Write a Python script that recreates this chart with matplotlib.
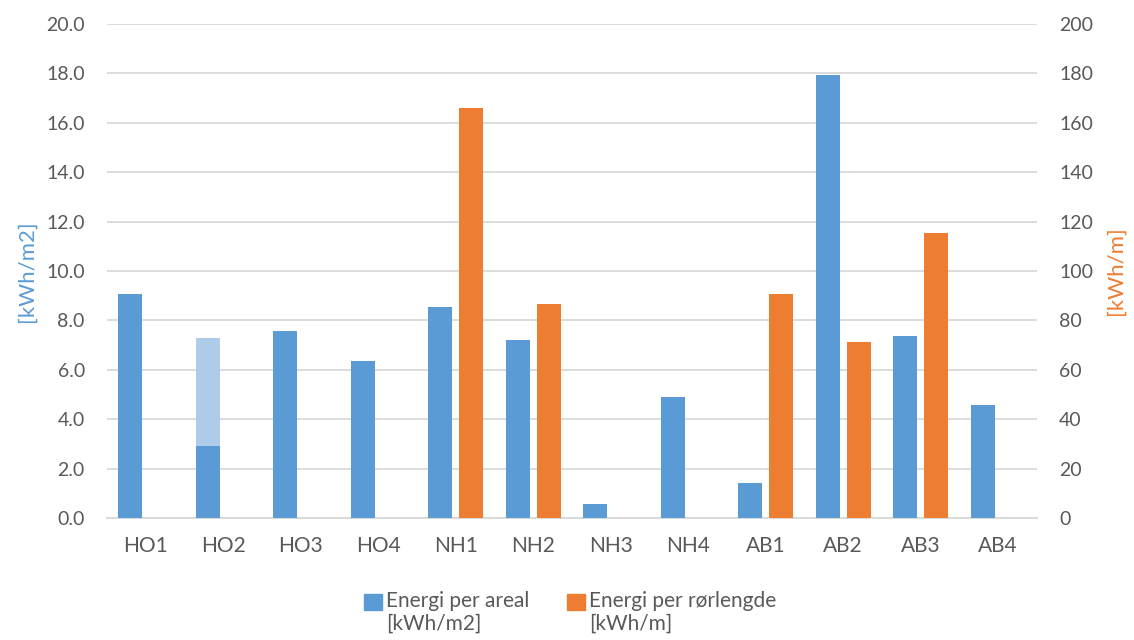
import numpy as np
import matplotlib
matplotlib.use("Agg")
import matplotlib.pyplot as plt
from matplotlib.patches import Patch

plt.rcParams["font.family"] = ["Lato", "DejaVu Sans"]

categories = ["HO1", "HO2", "HO3", "HO4", "NH1", "NH2", "NH3", "NH4",
              "AB1", "AB2", "AB3", "AB4"]
# energi per areal [kWh/m2] (venstre akse)
areal = [9.05, 2.9, 7.56, 6.35, 8.55, 7.21, 0.56, 4.89, 1.40, 17.95, 7.38, 4.58]
# HO2: tillegg oppå (lys blå)
areal_extra = [0, 4.37, 0, 0, 0, 0, 0, 0, 0, 0, 0, 0]
# energi per rørlengde [kWh/m] (høyre akse), None = mangler
ror = [None, None, None, None, 166, 86.6, None, None, 90.6, 71.2, 115.4, None]

BLUE, ORANGE, LIGHT = "#5B9BD5", "#ED7D31", "#AECBEA"
GRID, TXT = "#D9D9D9", "#595959"

x = np.arange(len(categories))
w, off = 0.31, 0.2

fig = plt.figure(figsize=(11.34, 6.40), dpi=100)
ax = fig.add_axes([0.0944, 0.1906, 0.82, 0.772])
ax2 = ax.twinx()

ax.bar(x - off, areal, width=w, color=BLUE, linewidth=0, zorder=3)
extra = np.array(areal_extra)
m = extra > 0
ax.bar(x[m] - off, extra[m], bottom=np.array(areal)[m], width=w, color=LIGHT,
       linewidth=0, zorder=3)

r = np.array([np.nan if v is None else v for v in ror], dtype=float)
ok = ~np.isnan(r)
ax2.bar(x[ok] + off, r[ok], width=w, color=ORANGE, linewidth=0, zorder=3)

ax.set_xlim(-0.5, len(categories) - 0.5)
ax.set_ylim(0, 20)
ax2.set_ylim(0, 200)
ax.set_yticks(np.arange(0, 21, 2))
ax.set_yticklabels([f"{v:.1f}" for v in np.arange(0, 21, 2)])
ax2.set_yticks(np.arange(0, 201, 20))
ax.set_xticks(x)
ax.set_xticklabels(categories)

ax.grid(axis="y", color=GRID, linewidth=1.3, zorder=0)
ax.set_axisbelow(True)
for a in (ax, ax2):
    for s in a.spines.values():
        s.set_visible(False)
ax.spines["bottom"].set_visible(True)
ax.spines["bottom"].set_color(GRID)
ax.spines["bottom"].set_linewidth(1.3)

ax.tick_params(axis="y", length=0, pad=16, labelsize=14, labelcolor=TXT)
ax.tick_params(axis="x", length=0, pad=13, labelsize=15, labelcolor=TXT)
ax2.tick_params(axis="y", length=0, pad=16, labelsize=14, labelcolor=TXT)

ax.set_ylabel("[kWh/m2]", color=BLUE, fontsize=16, labelpad=7)
ax2.set_ylabel("[kWh/m]", color=ORANGE, fontsize=16, labelpad=9, rotation=90)

handles = [Patch(color=BLUE), Patch(color=ORANGE)]
labels = ["Energi per areal\n[kWh/m2]", "Energi per rørlengde\n[kWh/m]"]
leg = fig.legend(handles, labels, loc="lower center", bbox_to_anchor=(0.503, -0.02),
                 ncol=2, frameon=False, fontsize=15, handlelength=0.85,
                 handleheight=0.85, handletextpad=0.2, columnspacing=1.8,
                 labelcolor=TXT)
# firkanten på høyde med første tekstlinje
for h in leg.legend_handles:
    h.set_y(h.get_y() + 8)

fig.savefig("out.png", dpi=100)
